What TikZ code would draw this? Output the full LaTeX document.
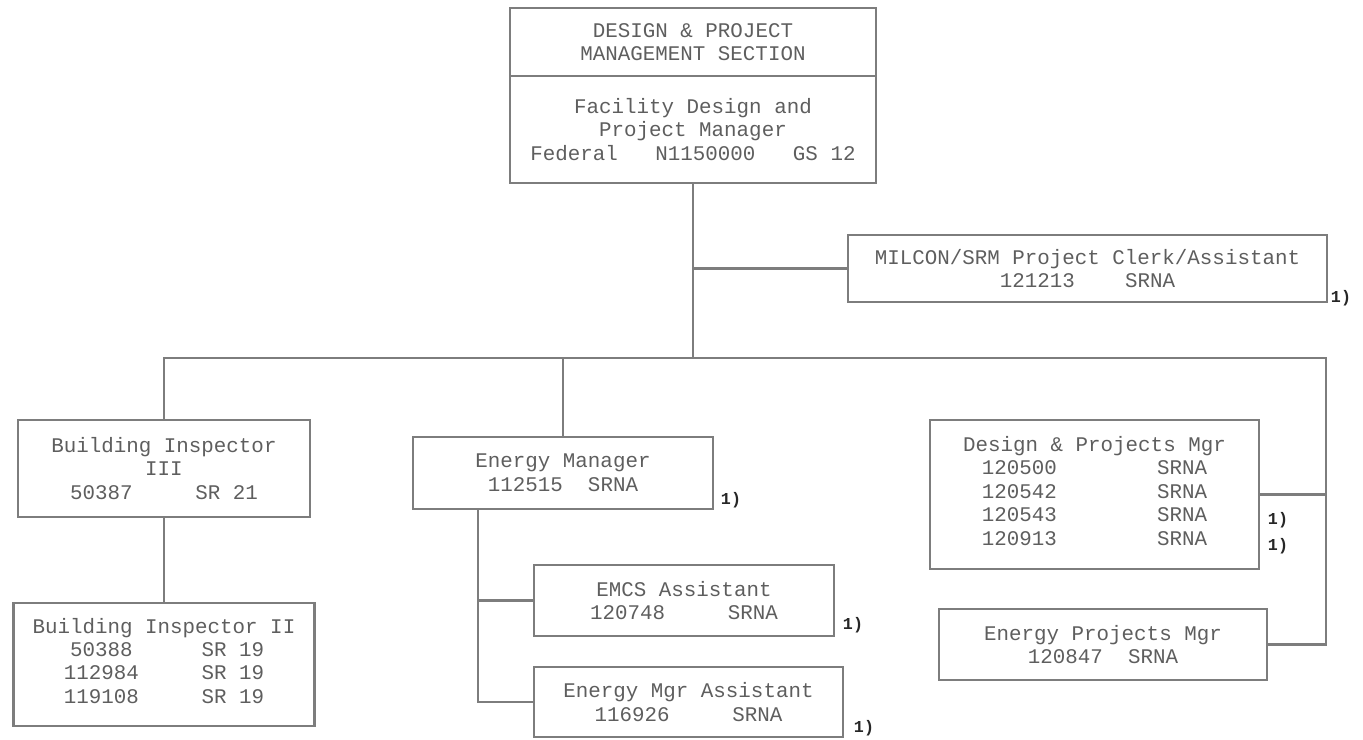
\documentclass[tikz,border=0pt]{standalone}
\usepackage{fontspec}
\usepackage{tikz}
\usetikzlibrary{positioning}
\newfontfamily\orgmono{Liberation Mono}
\definecolor{inkgray}{HTML}{5E5E5E}
\definecolor{rulegray}{HTML}{7D7D7D}

\begin{document}
\begin{tikzpicture}[x=0.02cm, y=-0.02cm,
    post/.style={draw=rulegray, line width=1.3pt, inner sep=0pt, align=center,
      text=inkgray, font=\orgmono\fontsize{11.86}{13.4}\selectfont},
    wire/.style={draw=rulegray, line width=1.3pt},
    fnote/.style={inner sep=0pt, text=black!85, font=\orgmono\bfseries\fontsize{9.5}{11}\selectfont}]
    \useasboundingbox (0,0) rectangle (1363,740);

    % head of section
    \node[post, minimum width=7.32cm, minimum height=1.36cm] (secbox) at (693,42)
      {DESIGN \& PROJECT\\MANAGEMENT SECTION};
    \node[post, minimum width=7.32cm, minimum height=2.14cm] (fdpm) at (693,129.5)
      {Facility Design and\\Project Manager\\Federal~~~N1150000~~~GS~12};
    \node[post, minimum width=9.58cm, minimum height=1.34cm] (milcon) at (1087.5,268.5)
      {MILCON/SRM Project Clerk/Assistant\\121213~~~~SRNA};

    % second row
    \node[post, minimum width=5.84cm, minimum height=1.94cm] (bi3) at (164,468.5)
      {Building Inspector\\III\\50387~~~~~SR~21};
    \node[post, minimum width=6.02cm, minimum height=2.46cm] (bi2) at (164,664.5)
      {Building Inspector II\\
       \begin{tabular}{@{}c@{~~~~~}l@{}}50388&SR 19\\112984&SR 19\\119108&SR 19\end{tabular}};
    \node[post, minimum width=6cm, minimum height=1.44cm] (em) at (563,473)
      {Energy Manager\\112515~~SRNA};
    \node[post, minimum width=6cm, minimum height=1.42cm] (emcs) at (684,600.5)
      {EMCS Assistant\\120748~~~~~SRNA};
    \node[post, minimum width=6.18cm, minimum height=1.4cm] (ema) at (688.5,702)
      {Energy Mgr Assistant\\116926~~~~~SRNA};
    \node[post, minimum width=6.58cm, minimum height=2.98cm] (dpm) at (1094.5,494.5)
      {Design \& Projects Mgr\\
       \begin{tabular}{@{}c@{~~~~~~~~}l@{}}120500&SRNA\\120542&SRNA\\120543&SRNA\\120913&SRNA\end{tabular}};
    \node[post, minimum width=6.56cm, minimum height=1.42cm] (epm) at (1103,644.5)
      {Energy Projects Mgr\\120847~~SRNA};

    % footnote marks
    \node[fnote] (f1) at (1341,298) {1)};
    \node[fnote] (f2) at (731,500) {1)};
    \node[fnote] (f3) at (853,625) {1)};
    \node[fnote] (f4) at (864,728) {1)};
    \node[fnote] (f5) at (1278,520) {1)};
    \node[fnote] (f6) at (1278,546) {1)};

    % lines
    \coordinate (hub) at (693,358);
    \coordinate (rspine) at (1326,358);
    \coordinate (emtap) at ([xshift=-1.7cm]em.south);
    \draw[wire] (fdpm.south) -- (hub);
    \draw[wire] (milcon.west) -- (milcon.west -| hub);
    \draw[wire] (bi3.north) |- (rspine) |- (epm.east);
    \draw[wire] (em.north) -- (em.north |- hub);
    \draw[wire] (dpm.east) -- (dpm.east -| rspine);
    \draw[wire] (bi3.south) -- (bi2.north);
    \draw[wire] (emtap) |- (ema.west);
    \draw[wire] (emcs.west) -- (emcs.west -| emtap);
\end{tikzpicture}
\end{document}
